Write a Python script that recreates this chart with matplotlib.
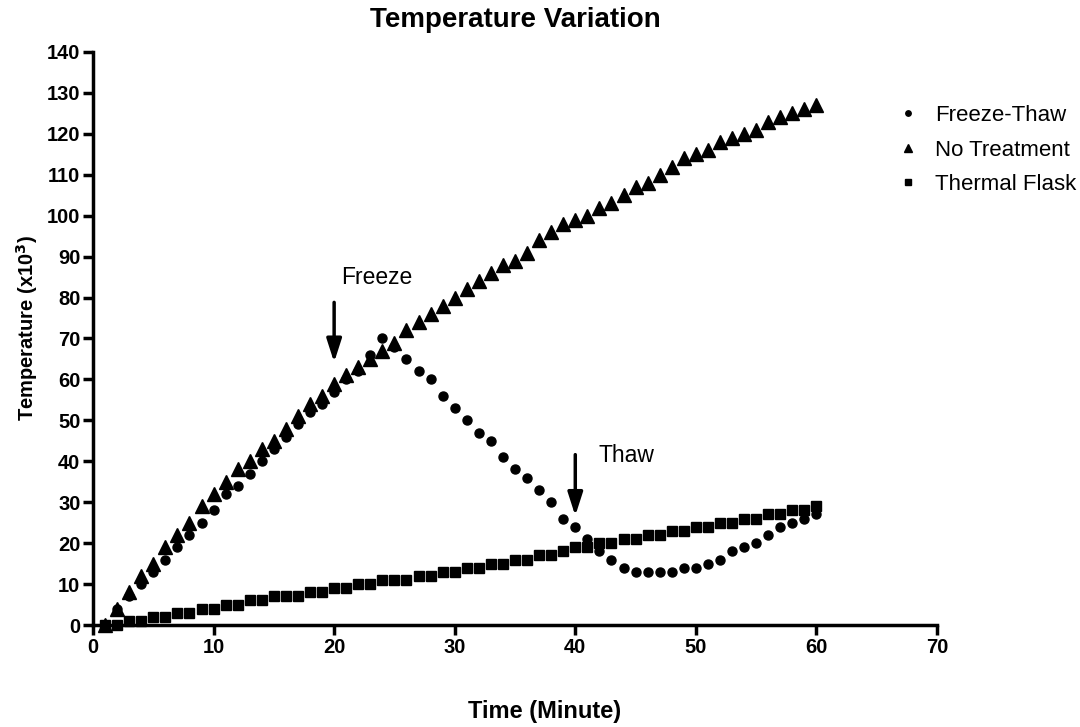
import numpy as np
import matplotlib
matplotlib.use('Agg')
import matplotlib.pyplot as plt

plt.rcParams['font.family'] = ['Liberation Sans', 'DejaVu Sans']

minutes = list(range(1, 61))

freeze_thaw = [0, 4, 7, 10, 13, 16, 19, 22, 25, 28,
               32, 34, 37, 40, 43, 46, 49, 52, 54, 57,
               60, 62, 66, 70, 68, 65, 62, 60, 56, 53,
               50, 47, 45, 41, 38, 36, 33, 30, 26, 24,
               21, 18, 16, 14, 13, 13, 13, 13, 14, 14,
               15, 16, 18, 19, 20, 22, 24, 25, 26, 27]

no_treatment = [0, 4, 8, 12, 15, 19, 22, 25, 29, 32,
                35, 38, 40, 43, 45, 48, 51, 54, 56, 59,
                61, 63, 65, 67, 69, 72, 74, 76, 78, 80,
                82, 84, 86, 88, 89, 91, 94, 96, 98, 99,
                100, 102, 103, 105, 107, 108, 110, 112, 114, 115,
                116, 118, 119, 120, 121, 123, 124, 125, 126, 127]

thermal_flask = [0, 0, 1, 1, 2, 2, 3, 3, 4, 4,
                 5, 5, 6, 6, 7, 7, 7, 8, 8, 9,
                 9, 10, 10, 11, 11, 11, 12, 12, 13, 13,
                 14, 14, 15, 15, 16, 16, 17, 17, 18, 19,
                 19, 20, 20, 21, 21, 22, 22, 23, 23, 24,
                 24, 25, 25, 26, 26, 27, 27, 28, 28, 29]

fig = plt.figure(figsize=(10.8, 7.27), dpi=100)
ax = fig.add_axes([0.0861, 0.1403, 0.7815, 0.7882])

ax.plot(minutes, freeze_thaw, 'o', color='black', markersize=6.5,
        label='Freeze-Thaw', clip_on=False, zorder=3)
ax.plot(minutes, no_treatment, '^', color='black', markersize=10,
        label='No Treatment', clip_on=False, zorder=3)
ax.plot(minutes, thermal_flask, 's', color='black', markersize=7.5,
        label='Thermal Flask', clip_on=False, zorder=3)

ax.set_xlim(0, 70)
ax.set_ylim(0, 140)
ax.set_xticks(np.arange(0, 71, 10))
ax.set_yticks(np.arange(0, 141, 10))

for side in ['top', 'right']:
    ax.spines[side].set_visible(False)
for side in ['left', 'bottom']:
    ax.spines[side].set_linewidth(2.5)

ax.tick_params(width=2.5, length=7, labelsize=14.5, pad=2)
for lab in ax.get_xticklabels() + ax.get_yticklabels():
    lab.set_fontweight('bold')

ax.set_title('Temperature Variation', fontsize=20, fontweight='bold', pad=18)
ax.set_xlabel('Time (Minute)', fontsize=17, fontweight='bold')
ax.xaxis.set_label_coords(0.5355, -0.131)
ax.set_ylabel('Temperature (x10$^\\mathbf{3}$)', fontsize=14.5, fontweight='bold')
ax.yaxis.set_label_coords(-0.063, 0.518)

# Freeze / Thaw arrows
arrow = dict(arrowstyle='-|>,head_width=0.45,head_length=1.4', color='black', lw=2.5)
ax.annotate('', xy=(20, 63.5), xytext=(20, 79.5), arrowprops=arrow)
ax.text(20.6, 84.8, 'Freeze', fontsize=16.5, ha='left', va='center')
ax.annotate('', xy=(40, 26), xytext=(40, 42.3), arrowprops=arrow)
ax.text(41.9, 41.5, 'Thaw', fontsize=16.5, ha='left', va='center')

leg = ax.legend(loc='upper left', bbox_to_anchor=(0.929, 0.942), frameon=False,
                fontsize=16, markerscale=0.6, handlelength=1.0, handletextpad=0.7,
                labelspacing=0.6)

fig.savefig('out.png', dpi=100)
